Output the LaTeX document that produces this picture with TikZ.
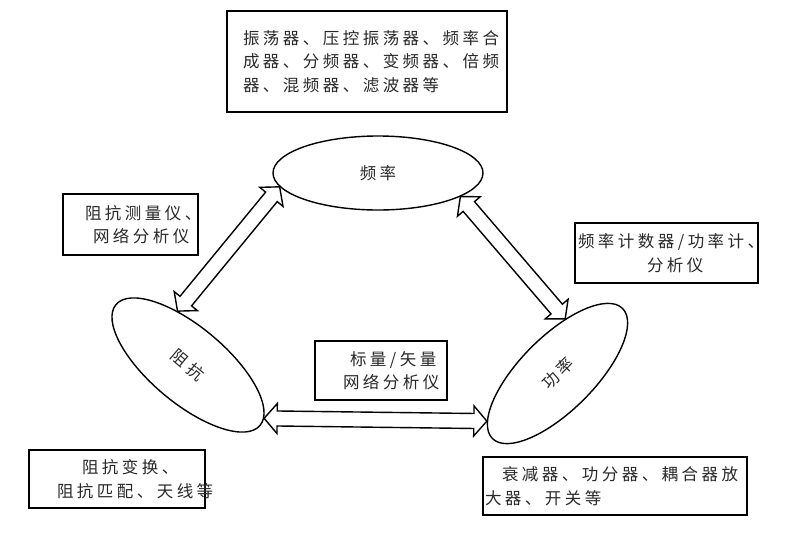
\documentclass[tikz,border=0pt]{standalone}
\usepackage{fontspec}
\newfontfamily\cjk[LetterSpace=21]{Noto Sans CJK SC}
\usetikzlibrary{shapes.geometric, calc}
\definecolor{inkgray}{RGB}{40, 40, 40}

\newcommand{\headlen}{13pt}
\newcommand{\headwd}{15pt}
\newcommand{\shaftwd}{7.5pt}
% hollow double arrow from #1 to #2
\newcommand{\dblarrow}[2]{%
  \draw[blockarrow] (#1)
    -- ($(#1)!\headlen!(#2)!\headwd!90:(#2)$)
    -- ($(#1)!\headlen!(#2)!\shaftwd!90:(#2)$)
    -- ($(#2)!\headlen!(#1)!\shaftwd!-90:(#1)$)
    -- ($(#2)!\headlen!(#1)!\headwd!-90:(#1)$)
    -- (#2)
    -- ($(#2)!\headlen!(#1)!\headwd!90:(#1)$)
    -- ($(#2)!\headlen!(#1)!\shaftwd!90:(#1)$)
    -- ($(#1)!\headlen!(#2)!\shaftwd!-90:(#2)$)
    -- ($(#1)!\headlen!(#2)!\headwd!-90:(#2)$)
    -- cycle;}

\begin{document}
\begin{tikzpicture}[x=1pt, y=-1pt,
  lbl/.style={font=\cjk\fontsize{16.5pt}{23.5pt}\selectfont, text=inkgray},
  ellip/.style={ellipse, draw, line width=1.4pt, lbl, inner sep=0pt},
  tbox/.style={draw, line width=1.4pt, lbl, align=left, inner ysep=0pt},
  blockarrow/.style={draw, line width=1.4pt, line join=miter}]
  \useasboundingbox (0,0) rectangle (785,539);

  % the three quantities
  \node[ellip, minimum width=210pt, minimum height=74pt] (freq) at (378,173) {频率};
  \node[ellip, minimum width=188pt, minimum height=76pt, rotate=-40] (imp) at (188,365) {阻\hspace{4pt}抗};
  \node[ellip, minimum width=184pt, minimum height=74pt, rotate=45] (pow) at (557.5,373.5) {功\hspace{3pt}率};

  % links between them
  \dblarrow{freq.188}{imp.141}
  \dblarrow{freq.344}{pow.37}
  \dblarrow{imp.5}{pow.169}

  % devices and instruments
  \node[tbox, text width=248pt, inner xsep=16pt, minimum height=101pt] (freqdev) at (367,61.5)
    {振荡器、压控振荡器、频率合\\成器、分频器、变频器、倍频\\器、混频器、滤波器等};
  \node[tbox, text width=91pt, inner xsep=22pt, minimum height=61pt] (impmeter) at (130.5,224.5)
    {阻抗测量仪、\\\hspace*{8pt}网络分析仪};
  \node[tbox, text width=177pt, inner xsep=3pt, minimum height=60pt] (freqmeter) at (666.5,253)
    {频率计数器/功率计、\\\hspace*{69pt}分析仪};
  \node[tbox, text width=76pt, inner xsep=28pt, minimum height=59pt] (vna) at (381,370.5)
    {\hspace*{7pt}标量/矢量\\网络分析仪};
  \node[tbox, text width=120pt, inner xsep=28pt, minimum height=58pt] (impdev) at (117,479)
    {\hspace*{25pt}阻抗变换、\\阻抗匹配、天线等};
  \node[tbox, text width=260pt, inner xsep=2pt, minimum height=58pt] (powdev) at (615,486)
    {\hspace*{17pt}衰减器、功分器、耦合器放\\大器、开关等};
\end{tikzpicture}
\end{document}
